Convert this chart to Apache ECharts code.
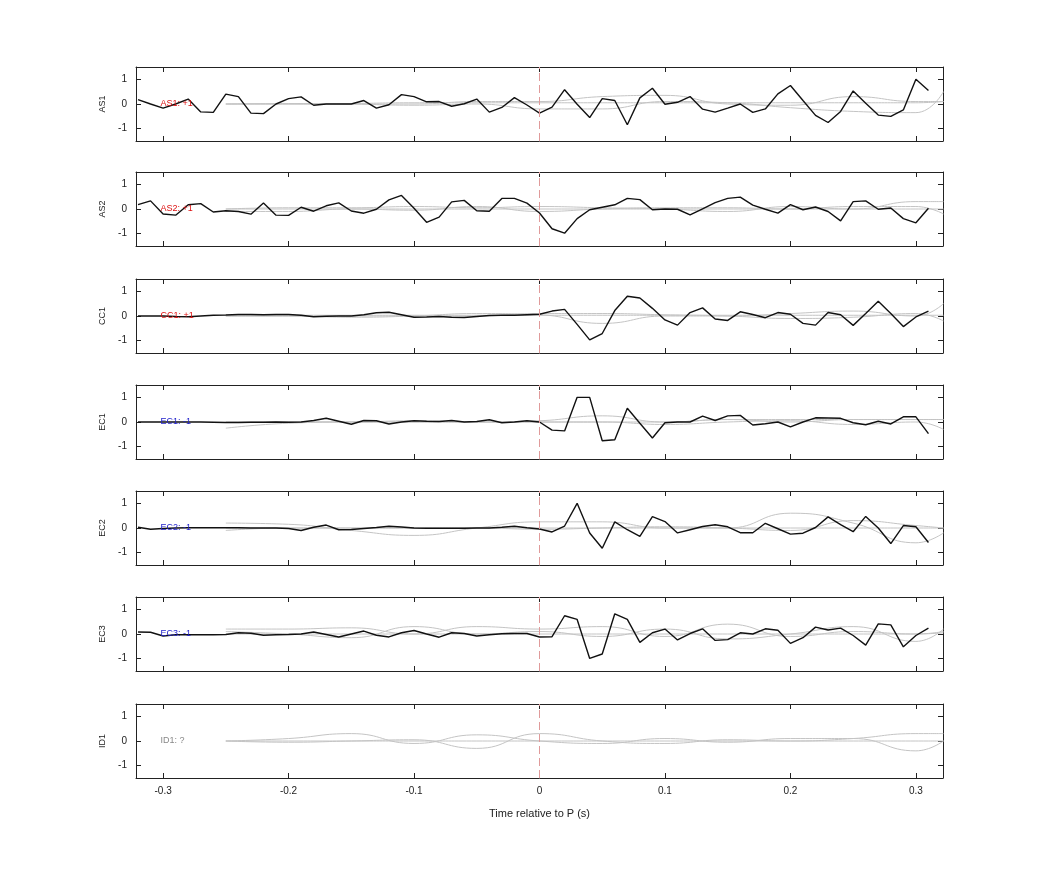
<!DOCTYPE html>
<html><head><meta charset="utf-8">
<script src="https://cdn.jsdelivr.net/npm/echarts@6/dist/echarts.min.js"></script>
<style>html,body{margin:0;padding:0;background:#fff}#c{width:1042px;height:875px}</style>
</head><body><div id="c"></div>
<script>
const stations = ["AS1","AS2","CC1","EC1","EC2","EC3","ID1"];
const stationLabels = ["AS1: +1","AS2: +1","CC1: +1","EC1: -1","EC2: -1","EC3: -1","ID1: ?"];
const labelColors = ["#dd1111","#dd1111","#dd1111","#2222cc","#2222cc","#2222cc","#888888"];
const times = [-0.32,-0.31,-0.30,-0.29,-0.28,-0.27,-0.26,-0.25,-0.24,-0.23,-0.22,-0.21,-0.20,-0.19,-0.18,-0.17,-0.16,-0.15,-0.14,-0.13,-0.12,-0.11,-0.10,-0.09,-0.08,-0.07,-0.06,-0.05,-0.04,-0.03,-0.02,-0.01,0.00,0.01,0.02,0.03,0.04,0.05,0.06,0.07,0.08,0.09,0.10,0.11,0.12,0.13,0.14,0.15,0.16,0.17,0.18,0.19,0.20,0.21,0.22,0.23,0.24,0.25,0.26,0.27,0.28,0.29,0.30,0.31];
const AS1 = [0.18,0.0,-0.17,0.0,0.2,-0.32,-0.34,0.4,0.3,-0.37,-0.39,0.0,0.22,0.29,-0.05,0,0,0,0.14,-0.17,-0.03,0.38,0.3,0.09,0.1,-0.09,0.01,0.2,-0.33,-0.14,0.26,-0.04,-0.37,
 -0.13,0.58,-0.01,-0.55,0.22,0.14,-0.84,0.25,0.64,-0.01,0.07,0.3,-0.21,-0.33,-0.17,0,-0.34,-0.2,0.41,0.75,0.14,-0.46,-0.75,-0.3,0.53,0.03,-0.45,-0.5,-0.24,1.0,0.55];
const AS2 = [0.18,0.33,-0.2,-0.25,0.17,0.22,-0.12,-0.07,-0.1,-0.21,0.24,-0.25,-0.26,0.07,-0.09,0.13,0.25,-0.08,-0.17,-0.01,0.37,0.55,0.03,-0.54,-0.33,0.29,0.35,-0.07,-0.09,0.43,0.43,0.24,-0.16,
 -0.8,-0.98,-0.39,-0.03,0.07,0.17,0.43,0.38,-0.03,0,-0.01,-0.24,0.01,0.26,0.43,0.48,0.16,-0.01,-0.17,0.18,-0.03,0.08,-0.1,-0.48,0.3,0.33,-0.01,0.04,-0.39,-0.56,0.03];
const CC1 = [0,0,0,-0.02,-0.03,0,0.03,0.04,0.06,0.06,0.05,0.06,0.06,0.03,-0.03,-0.01,0,0,0.05,0.13,0.15,0.05,-0.05,-0.04,-0.02,-0.05,-0.06,-0.02,0.02,0.03,0.03,0.05,0.07,
 0.2,0.27,-0.34,-0.97,-0.71,0.22,0.8,0.73,0.31,-0.16,-0.37,0.14,0.33,-0.12,-0.18,0.17,0.06,-0.07,0.14,0.07,-0.3,-0.37,0.14,0.05,-0.38,0.1,0.6,0.1,-0.43,-0.04,0.2];
const EC1 = [0,0,0,0,0,0,-0.01,-0.02,-0.02,-0.01,-0.01,0,-0.01,0,0.06,0.15,0.03,-0.09,0.06,0.05,-0.08,0,0.05,0.03,0.02,0.06,0,0.02,0.09,-0.03,0,0.05,0,
 -0.33,-0.36,1.0,1.0,-0.76,-0.72,0.56,-0.05,-0.65,-0.03,0,0,0.24,0.06,0.25,0.27,-0.12,-0.07,0,-0.2,0,0.17,0.16,0.15,-0.03,-0.11,0.03,-0.08,0.21,0.21,-0.47];
const EC2 = [0.03,-0.05,-0.02,0,0.01,0.01,0.01,0.01,0.01,0,0,0,-0.02,-0.1,0.03,0.12,-0.07,-0.06,-0.02,0.02,0.07,0.04,0,-0.01,-0.01,-0.01,-0.01,0,0,0.03,0.07,0.01,-0.04,
 -0.16,0.08,1.0,-0.2,-0.82,0.25,-0.07,-0.34,0.46,0.26,-0.2,-0.07,0.06,0.13,0.05,-0.19,-0.19,0.19,-0.03,-0.25,-0.21,0.02,0.45,0.14,-0.15,0.47,0,-0.63,0.1,0.05,-0.59];
const EC3 = [0.08,0.07,-0.08,-0.03,-0.03,-0.03,-0.03,-0.02,0.05,0.03,-0.05,-0.03,-0.02,0,0.08,-0.02,-0.12,0,0.12,-0.05,-0.12,0.05,0.14,0,-0.13,0.05,0.02,-0.08,-0.03,0.01,0.02,0.02,-0.12,
 -0.11,0.74,0.59,-0.99,-0.81,0.82,0.59,-0.34,0.05,0.2,-0.24,0.02,0.21,-0.26,-0.23,0.05,0,0.21,0.15,-0.38,-0.15,0.28,0.16,0.24,-0.06,-0.45,0.41,0.37,-0.52,-0.06,0.24];
const blackTraces = [AS1, AS2, CC1, EC1, EC2, EC3, null];
const grayTimes = [-0.25,-0.2,-0.15,-0.1,-0.05,0,0.05,0.1,0.15,0.2,0.25,0.3,0.322];
const grayTraces = [
 [[0,0,0,0,0.1,0.1,0.3,0.35,0,-0.05,0.3,0.1,0.1],[0,0.02,0,-0.05,0,-0.2,-0.2,0.1,0.05,-0.15,-0.3,-0.35,0.5],[0,0,0.02,0.05,0.05,0.05,0.05,0.05,0.05,0.05,0.05,0.05,0.1]],
 [[0,0.05,0.05,0.1,0.05,0.1,0.05,0,-0.1,0.1,0,0.3,0.3],[-0.1,-0.1,0,-0.05,0.1,-0.1,0,0.05,0.05,0,0.1,0.1,-0.2],[0,0,0,0,0,0,0,0,0,0,0,0,0]],
 [[0,0,-0.05,0,0.1,0.05,-0.3,0,0,0.1,0.2,0,0.5],[0,0,0,0,0,0.1,0.1,0.05,0,-0.1,-0.05,0.1,-0.2],[0.03,0.03,0.03,0.03,0.03,0.03,0.03,0.03,0.03,0.03,0.03,0.03,0.03]],
 [[-0.25,-0.05,0,0,0,0.05,0.25,0,0.1,0,0.1,0.1,0.1],[0,0,0,0.05,0,0,0,-0.1,0,0.05,-0.1,0,-0.3],[0,0,0,0,0,0,0,0,0.1,0.1,0.1,0.1,0.1]],
 [[0.2,0.15,-0.1,-0.3,0,0.25,0.25,0,0,0.6,0.2,-0.6,-0.2],[0,0,0,0,0,-0.05,0,0.05,0,-0.1,0.3,0.1,0],[-0.1,0,0,0,0,0,0,0,0,0,0,0,0]],
 [[0.2,0.2,0.25,0,0.3,0.2,0.3,-0.1,0.4,-0.1,0.1,0,0.1],[0.1,0,-0.15,0.3,0,0.1,-0.1,0.2,-0.2,0,0.3,-0.3,0.2],[0,0,0,0,0,0,0,0,0,0,0,0,0.05]],
 [[0,0.1,0.3,-0.1,0.25,0,-0.1,0.1,-0.05,0.1,0.1,-0.4,0],[0,-0.05,0,0.05,-0.3,0.3,0,-0.1,0.05,0,0.1,0.3,0.3],[0,0,0,0,0,0,0,0,0,0,0,0,0]]
];
const xTicks = [-0.3,-0.2,-0.1,0,0.1,0.2,0.3];
const yTicks = [-1,0,1];
const xTickLabels = ["-0.3","-0.2","-0.1","0","0.1","0.2","0.3"];

const tops = [67,172,279,385,491,597,704];
const H = 74, L = 136, W = 807;
const grid=[], xAxis=[], yAxis=[], series=[];
const XMIN=-0.3216, XMAX=0.3216;
stations.forEach((st,i)=>{
  grid.push({left:L, top:tops[i], width:W, height:H, show:false});
  const last = i===stations.length-1;
  xAxis.push({type:'value', gridIndex:i, min:XMIN, max:XMAX, position:'bottom',
    axisLine:{show:true, onZero:false, lineStyle:{color:'#222',width:1}},
    axisTick:{show:true, inside:true, length:5, customValues:xTicks, lineStyle:{color:'#222'}},
    axisLabel:{show:last, customValues:xTicks, formatter:(v)=>xTickLabels[xTicks.findIndex(t=>Math.abs(t-v)<1e-6)]||'', color:'#222', fontSize:10, fontFamily:'Liberation Sans', margin:8},
    splitLine:{show:false},
    name: last?'Time relative to P (s)':'', nameLocation:'middle', nameGap:30, nameTextStyle:{color:'#222',fontSize:11,fontFamily:'Liberation Sans'}});
  xAxis.push({type:'value', gridIndex:i, min:XMIN, max:XMAX, position:'top',
    axisLine:{show:true, onZero:false, lineStyle:{color:'#222',width:1}},
    axisTick:{show:true, inside:true, length:5, customValues:xTicks, lineStyle:{color:'#222'}},
    axisLabel:{show:false}, splitLine:{show:false}});
  yAxis.push({type:'value', gridIndex:i, min:-1.5, max:1.5, position:'left',
    axisLine:{show:true, onZero:false, lineStyle:{color:'#222',width:1}},
    axisTick:{show:true, inside:true, length:5, customValues:yTicks, lineStyle:{color:'#222'}},
    axisLabel:{customValues:yTicks, color:'#222', fontSize:10, fontFamily:'Liberation Sans', margin:9},
    splitLine:{show:false},
    name:st, nameLocation:'middle', nameGap:27, nameRotate:90, nameTextStyle:{color:'#222',fontSize:9,fontFamily:'Liberation Sans'}});
  yAxis.push({type:'value', gridIndex:i, min:-1.5, max:1.5, position:'right',
    axisLine:{show:true, onZero:false, lineStyle:{color:'#222',width:1}},
    axisTick:{show:true, inside:true, length:5, customValues:yTicks, lineStyle:{color:'#222'}},
    axisLabel:{show:false}, splitLine:{show:false}});
  grayTraces[i].forEach(g=>{
    series.push({type:'line', xAxisIndex:2*i, yAxisIndex:2*i, data:grayTimes.map((t,k)=>[t,g[k]]), smooth:0.5, showSymbol:false, silent:true,
      lineStyle:{color:'#c4c4c4', width:1}, z:2});
  });
  series.push({type:'line', xAxisIndex:2*i, yAxisIndex:2*i, data: blackTraces[i]? times.map((t,k)=>[t,blackTraces[i][k]]) : [], showSymbol:false, silent:true,
    lineStyle:{color:'#111', width:1.4}, z:3,
    markLine:{silent:true, symbol:'none', label:{show:false}, lineStyle:{color:'#e09a9a', type:[8,4], width:1}, data:[{xAxis:0}]},
    markPoint:{symbol:'circle', symbolSize:0, z:10, label:{show:true, formatter:stationLabels[i], color:labelColors[i], fontSize:9, fontFamily:'Liberation Sans', position:'right', distance:0}, data:[{coord:[-0.302,0]}]}});
});
const chart = echarts.init(document.getElementById('c'));
chart.setOption({animation:false, backgroundColor:'#fff', grid, xAxis, yAxis, series});
</script></body></html>
